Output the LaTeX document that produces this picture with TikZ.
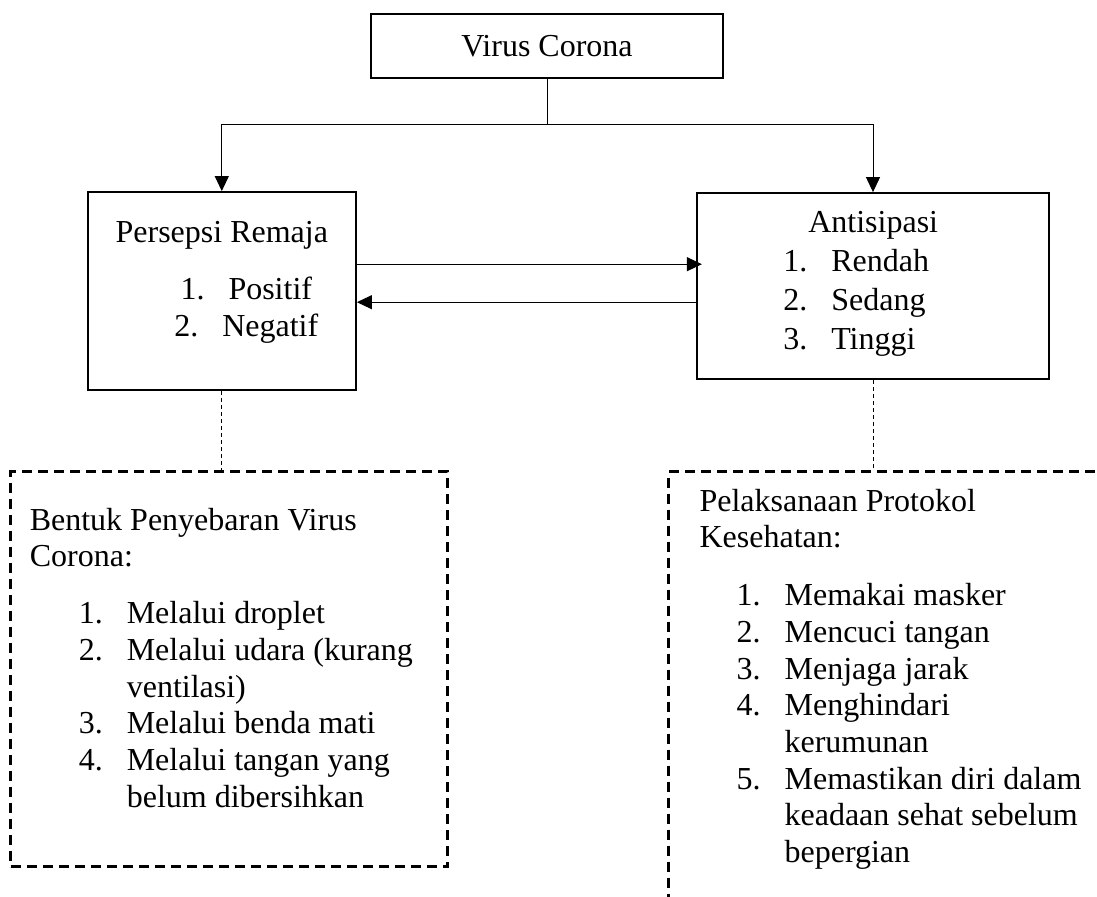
\documentclass[tikz,border=0pt]{standalone}
\usepackage{fontspec}
\setmainfont{Liberation Serif}
\usepackage{tikz}
\usetikzlibrary{arrows.meta,positioning}
\newcommand{\nitem}[3][0pt]{\hspace{#1}\makebox[24pt][l]{#2}#3}

\begin{document}
\begin{tikzpicture}[
    font=\fontsize{16pt}{18.35pt}\selectfont,
    box/.style={draw, line width=1.1pt, inner sep=0pt},
    dbox/.style={draw, line width=1.4pt, dash pattern=on 5pt off 3pt, inner sep=0pt},
    txt/.style={inner sep=0pt},
    arr/.style={-{Triangle[length=7.5pt, width=7pt]}, line width=0.5pt},
    dline/.style={line width=0.5pt, dash pattern=on 2pt off 1.5pt}
]
\clip (-273.5pt,23pt) rectangle (275pt,-425.5pt);
\node[box, minimum width=176pt, minimum height=32pt] (vc) {Virus Corona};
\node[box, minimum width=134pt, minimum height=99pt, below left=56pt and 6.5pt of vc] (pr) {};
\node[box, minimum width=176pt, minimum height=93pt, right=169.5pt of pr, yshift=2.5pt] (ant) {};
\node[txt, below=25.8pt of pr.north, anchor=base] (prtxt) {\begin{tabular}[t]{@{}c@{}}
    Persepsi Remaja\\[10pt]
    \nitem[24.5pt]{1.}{Positif}\\
    \nitem[24.5pt]{2.}{Negatif}
  \end{tabular}};
\node[txt, below right=20.3pt and 43.5pt of ant.north west, anchor=base west] (anttxt) {\begin{tabular}[t]{@{}l@{}}
    \hspace{12.5pt}Antisipasi\\[1.2pt]
    \nitem{1.}{Rendah}\\[1.2pt]
    \nitem{2.}{Sedang}\\[1.2pt]
    \nitem{3.}{Tinggi}
  \end{tabular}};
\coordinate[below=22.5pt of vc.south] (split);
\draw[line width=0.5pt] (vc.south) -- (split);
\draw[arr] (split) -| (pr.north);
\draw[arr] (split) -| (ant.north);
\draw[arr, shorten >=-3pt] ([yshift=13.5pt]pr.east) -- ([yshift=13.5pt]pr.east -| ant.west);
\draw[arr] ([yshift=-5.5pt]pr.east -| ant.west) -- ([yshift=-5.5pt]pr.east);
\node[dbox, minimum width=218.5pt, minimum height=197.5pt, below=39.5pt of pr, xshift=3.75pt] (spread) {};
\node[dbox, minimum width=250pt, minimum height=225pt, right=109pt of spread.north east, anchor=north west] (proto) {};
\draw[dline] (pr.south) -- (pr.south |- spread.north);
\draw[dline] (ant.south) -- (ant.south |- proto.north);
\node[txt, below right=30pt and 10pt of spread.north west, anchor=base west] (spreadtxt) {\begin{tabular}[t]{@{}l@{}}
    Bentuk Penyebaran Virus\\
    Corona:\\[10pt]
    \nitem[24.5pt]{1.}{Melalui droplet}\\
    \nitem[24.5pt]{2.}{Melalui udara (kurang}\\
    \hspace{48.5pt}ventilasi)\\
    \nitem[24.5pt]{3.}{Melalui benda mati}\\
    \nitem[24.5pt]{4.}{Melalui tangan yang}\\
    \hspace{48.5pt}belum dibersihkan
  \end{tabular}};
\node[txt, below right=20.5pt and 16pt of proto.north west, anchor=base west] (prototxt) {\begin{tabular}[t]{@{}l@{}}
    Pelaksanaan Protokol\\
    Kesehatan:\\[10.5pt]
    \nitem[18.5pt]{1.}{Memakai masker}\\
    \nitem[18.5pt]{2.}{Mencuci tangan}\\
    \nitem[18.5pt]{3.}{Menjaga jarak}\\
    \nitem[18.5pt]{4.}{Menghindari}\\
    \hspace{42.5pt}kerumunan\\
    \nitem[18.5pt]{5.}{Memastikan diri dalam}\\
    \hspace{42.5pt}keadaan sehat sebelum\\
    \hspace{42.5pt}bepergian
  \end{tabular}};
\end{tikzpicture}
\end{document}
